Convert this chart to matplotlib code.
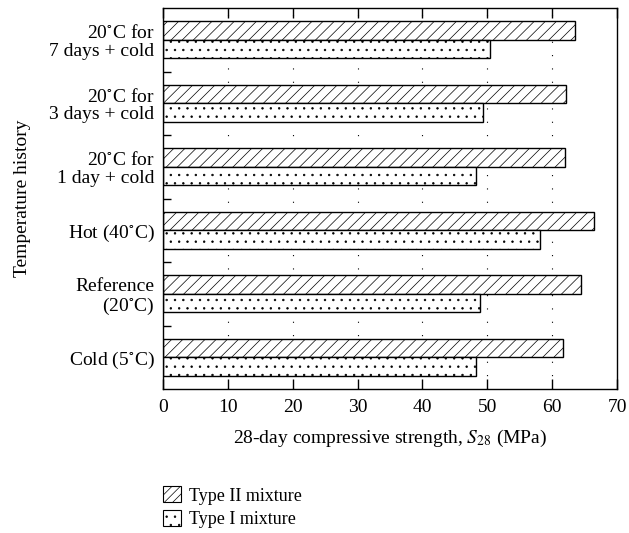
import matplotlib
matplotlib.use("Agg")
import matplotlib.pyplot as plt
import numpy as np
from matplotlib.patches import Patch

plt.rcParams['font.family'] = ['Liberation Serif', 'DejaVu Serif']
plt.rcParams['mathtext.fontset'] = 'stix'
plt.rcParams['hatch.linewidth'] = 0.5

categories = ["Cold (5$^{\\circ}$C)", "Reference\n(20$^{\\circ}$C)", "Hot (40$^{\\circ}$C)",
              "20$^{\\circ}$C for\n1 day + cold", "20$^{\\circ}$C for\n3 days + cold",
              "20$^{\\circ}$C for\n7 days + cold"]
type2 = [61.7, 64.5, 66.5, 62.0, 62.2, 63.5]
type1 = [48.3, 48.8, 58.2, 48.2, 49.3, 50.4]

fig = plt.figure(figsize=(6.29, 5.33), dpi=100)
ax = fig.add_axes([0.259, 0.270, 0.722, 0.715])

y = np.arange(len(categories))
h = 0.29
ax.barh(y + h / 2, type2, height=h, color='white', edgecolor='black', hatch='///', linewidth=1.0)
ax.barh(y - h / 2, type1, height=h, color='white', edgecolor='black', hatch='..', linewidth=1.0)

ax.set_xlim(0, 70)
ax.set_ylim(-0.5, len(categories) - 0.5)
ax.set_xticks(range(0, 71, 10))
ax.set_yticks(y)
ax.set_yticklabels(categories, fontsize=14, linespacing=1.05)
ax.set_yticks(np.arange(0.5, len(categories) - 1, 1), minor=True)
ax.tick_params(axis='y', which='major', length=0, pad=6)
ax.tick_params(axis='y', which='minor', direction='in', length=6, width=1)
ax.tick_params(axis='x', direction='in', length=7, width=1, labelsize=14, top=True, pad=7)
for xv in range(10, 70, 10):
    ax.axvline(xv, color='black', linestyle=(0, (1, 11)), linewidth=0.8, zorder=0)
for s in ax.spines.values():
    s.set_linewidth(1.0)

ax.set_xlabel("28-day compressive strength, $S_{28}$ (MPa)", fontsize=14, labelpad=9)
ax.set_ylabel("Temperature history", fontsize=14)
ax.yaxis.set_label_coords((31 - 163) / 454, 0.5)

handles = [Patch(facecolor='white', edgecolor='black', hatch='////', linewidth=0.8, label='Type II mixture'),
           Patch(facecolor='white', edgecolor='black', hatch='..', linewidth=0.8, label='Type I mixture')]
fig.legend(handles=handles, loc='upper left', bbox_to_anchor=(147 / 629, 1 - 470 / 533),
           frameon=False, fontsize=13, handlelength=1.0, handleheight=1.0, handletextpad=0.4,
           labelspacing=0.3)

fig.savefig("out.png", dpi=100)
